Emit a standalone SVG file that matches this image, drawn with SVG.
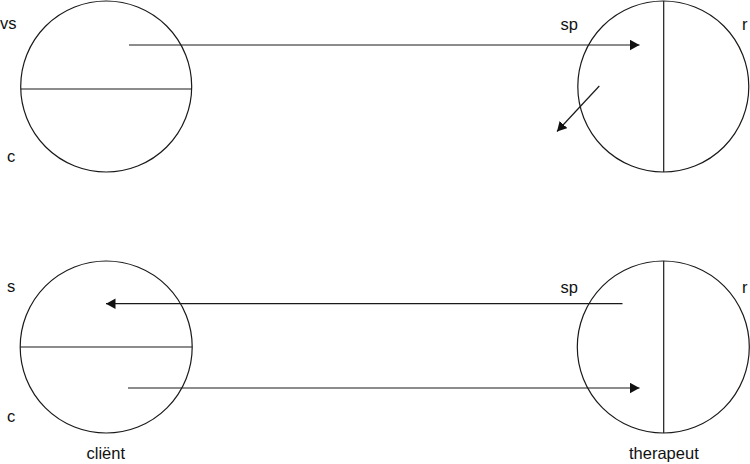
<svg xmlns="http://www.w3.org/2000/svg" width="750" height="464" viewBox="0 0 750 464">
<style>
.c{fill:none;stroke:#1a1a1a;stroke-width:1.2}
.l{stroke:#1a1a1a;stroke-width:1.2;fill:none}
.t{font-family:"Liberation Sans",Arial,sans-serif;font-size:16.5px;fill:#111}
</style>
<defs>
<marker id="ah" markerUnits="userSpaceOnUse" markerWidth="11" markerHeight="11" refX="9.5" refY="5.25" orient="auto">
<path d="M0,0 L9.5,5.25 L0,10.5 Z" fill="#111"/>
</marker>
</defs>
<rect width="750" height="464" fill="#fff"/>
<g id="node-top-left">
<circle class="c" cx="106.2" cy="86.5" r="85.5"/>
<line class="l" x1="20.7" y1="89" x2="191.7" y2="89"/>
<text class="t" x="0" y="29">vs</text>
<text class="t" x="7" y="162">c</text>
</g>
<g id="node-top-right">
<circle class="c" cx="663.3" cy="86.5" r="85.5"/>
<line class="l" x1="663.7" y1="1" x2="663.7" y2="172"/>
<text class="t" x="560.5" y="30">sp</text>
<text class="t" x="742" y="30">r</text>
</g>
<g id="node-bottom-left">
<circle class="c" cx="106.2" cy="347" r="86"/>
<line class="l" x1="20.2" y1="347" x2="192.2" y2="347"/>
<text class="t" x="7" y="292">s</text>
<text class="t" x="7" y="422">c</text>
<text class="t" x="86.5" y="459">cliënt</text>
</g>
<g id="node-bottom-right">
<circle class="c" cx="663.3" cy="347" r="86"/>
<line class="l" x1="663.7" y1="261" x2="663.7" y2="433"/>
<text class="t" x="560.5" y="293">sp</text>
<text class="t" x="742" y="293">r</text>
<text class="t" x="629" y="459">therapeut</text>
</g>
<g id="connectors">
<line class="l" x1="129" y1="45" x2="639.5" y2="45" marker-end="url(#ah)"/>
<line class="l" x1="599.3" y1="86" x2="557" y2="131.5" marker-end="url(#ah)"/>
<line class="l" x1="622.5" y1="303.7" x2="106" y2="303.7" marker-end="url(#ah)"/>
<line class="l" x1="128" y1="388" x2="639.5" y2="388" marker-end="url(#ah)"/>
</g>
</svg>
